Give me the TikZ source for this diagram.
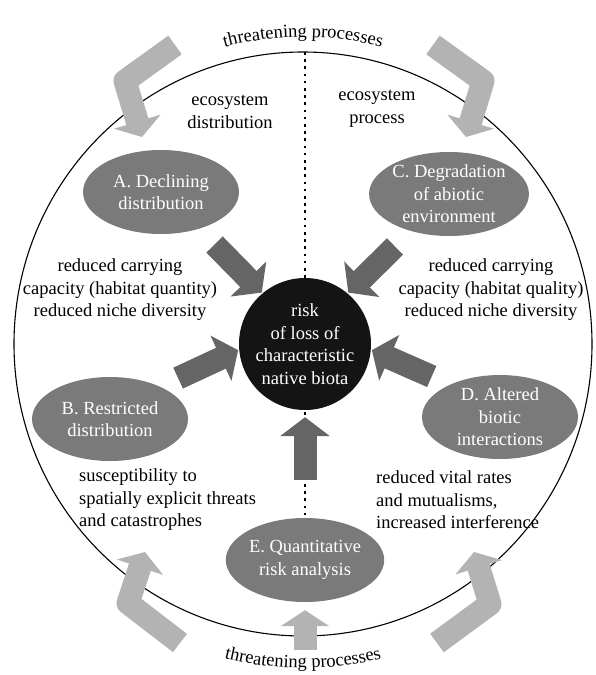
\documentclass[tikz,border=0pt]{standalone}
\usepackage{fontspec}
\setmainfont{Liberation Serif}
\usetikzlibrary{arrows.meta,shapes.geometric,decorations.text}

\definecolor{ovalgray}{HTML}{7A7A7A}
\definecolor{darkarrow}{HTML}{656565}
\definecolor{lightarrow}{HTML}{B3B3B3}
\definecolor{corebl}{HTML}{141414}

\newcommand{\bodyfont}{\fontsize{18.5}{22.5}\selectfont}
\newcommand{\arcfont}{\fontsize{18.5}{20}\selectfont}

\tikzset{
  oval/.style={ellipse, fill=ovalgray, text=white, minimum width=156pt,
    minimum height=84pt, inner sep=0pt, align=center, font=\bodyfont},
  core/.style={circle, fill=corebl, text=white, minimum size=132pt,
    inner sep=0pt, align=center, font=\bodyfont},
  note/.style={align=center, font=\bodyfont, inner sep=0pt},
  darrow/.style={draw=darkarrow, line width=23pt,
    -{Triangle[width=49pt,length=19pt]}},
  larrow/.style={draw=lightarrow, line width=23pt, line join=round,
    -{Triangle[width=48pt,length=16pt]}},
  axisdots/.style={line width=2.2pt, dash pattern=on 2.6pt off 4.6pt},
}

\begin{document}
\begin{tikzpicture}[x=1pt,y=-1pt]
    \useasboundingbox (0,0) rectangle (595,675);

    % outer circle and dividing line
    \draw[line width=1.1pt] (303,344) ellipse [x radius=289, y radius=292];
    \draw[axisdots] (305,52) -- (305,606);

    % threats written round the circle
    \path[decorate, decoration={text along path, text align=center,
        text={|\arcfont|threatening processes}}]
        (303,344) ++(250:307) arc[start angle=250, end angle=290, radius=307];
    \path[decorate, decoration={text along path, text align=center,
        text={|\arcfont|threatening processes}}]
        (303,344) ++(110:324) arc[start angle=110, end angle=70, radius=324];

    % centre and the five criteria
    \node[core] (risk) at (305,344) {risk\\of loss of\\characteristic\\native biota};
    \node[oval] (A) at (161,192) {A. Declining\\distribution};
    \node[oval] (C) at (449,194) {C. Degradation\\of abiotic\\environment};
    \node[oval] (B) at (110,419) {B. Restricted\\distribution};
    \node[oval] (D) at (500,417) {D. Altered\\biotic\\interactions};
    \node[oval] (E) at (305,560) {E. Quantitative\\risk analysis};

    % labels
    \node[note] (distL) at (230,112) {ecosystem\\distribution};
    \node[note] (procR) at (377,109) {ecosystem\\process};
    \node[note] (qtyL) at (120,290) {reduced carrying\\capacity (habitat quantity)\\reduced niche diversity};
    \node[note] (qlyR) at (491,290) {reduced carrying\\capacity (habitat quality)\\reduced niche diversity};
    \node[note, align=left, anchor=west] (spatL) at (79,500) {susceptibility to\\spatially explicit threats\\and catastrophes};
    \node[note, align=left, anchor=west] (vitalR) at (376,500) {reduced vital rates\\and mutualisms,\\increased interference};

    % criteria feeding the risk
    \draw[darrow, shorten <=22pt, shorten >=1pt] (A.316) -- (risk.130);
    \draw[darrow, shorten <=22pt, shorten >=1pt] (C.224) -- (risk.50);
    \draw[darrow, shorten <=20pt, shorten >=1pt] (B.33) -- (risk.185);
    \draw[darrow, shorten <=20pt, shorten >=1pt] (D.147) -- (risk.355);
    \draw[darrow, shorten <=38pt, shorten >=7pt] (E) -- (risk);

    % threatening processes coming in
    \coordinate (tlTail) at (175,45);  \coordinate (tlBend) at (125,81);  \coordinate (tlTip) at (142,137);
    \coordinate (trTail) at (433,45);  \coordinate (trBend) at (483,81);  \coordinate (trTip) at (466,137);
    \coordinate (blTail) at (180,643); \coordinate (blBend) at (128,603); \coordinate (blTip) at (145,552);
    \coordinate (brTail) at (437,643); \coordinate (brBend) at (490,604); \coordinate (brTip) at (474,552);
    \coordinate (bcTail) at (305,650);
    \draw[larrow] (tlTail) -- (tlBend) -- (tlTip);
    \draw[larrow] (trTail) -- (trBend) -- (trTip);
    \draw[larrow] (blTail) -- (blBend) -- (blTip);
    \draw[larrow] (brTail) -- (brBend) -- (brTip);
    \draw[larrow, shorten >=8pt] (bcTail) -- (E.south);
\end{tikzpicture}
\end{document}
